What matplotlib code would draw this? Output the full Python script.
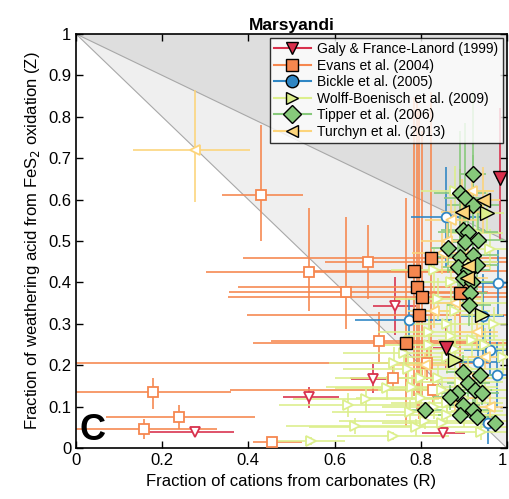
import numpy as np
import matplotlib.pyplot as plt
from matplotlib.lines import Line2D
from matplotlib.patches import Polygon

plt.rcParams['font.family'] = ['Liberation Sans', 'DejaVu Sans']

# ---- Galy & France-Lanord (1999)
galy_r   = [0.984, 0.858, 0.740, 0.689, 0.541, 0.276, 0.852]
galy_z   = [0.652, 0.242, 0.343, 0.167, 0.123, 0.039, 0.036]
galy_rlo = [0.010, 0.030, 0.050, 0.050, 0.060, 0.110, 0.050]
galy_rhi = [0.010, 0.030, 0.050, 0.045, 0.070, 0.090, 0.050]
galy_zlo = [0.150, 0.050, 0.070, 0.035, 0.025, 0.010, 0.010]
galy_zhi = [0.170, 0.050, 0.070, 0.035, 0.025, 0.010, 0.010]
galy_fill = [1, 1, 0, 0, 0, 0, 0]

# ---- Evans et al. (2004)
evans_r   = [0.824, 0.784, 0.791, 0.803, 0.796, 0.766, 0.890,
             0.429, 0.541, 0.626, 0.678, 0.703, 0.736, 0.179, 0.239, 0.158, 0.455, 0.814, 0.828]
evans_z   = [0.459, 0.427, 0.389, 0.365, 0.321, 0.254, 0.374,
             0.611, 0.425, 0.377, 0.449, 0.258, 0.169, 0.135, 0.075, 0.046, 0.015, 0.205, 0.140]
evans_rlo = [0.436, 0.250, 0.415, 0.450, 0.400, 0.356, 0.100,
             0.090, 0.240, 0.270, 0.100, 0.250, 0.100, 0.179, 0.170, 0.158, 0.045, 0.814, 0.470]
evans_rhi = [0.176, 0.216, 0.209, 0.197, 0.204, 0.234, 0.110,
             0.098, 0.380, 0.330, 0.322, 0.250, 0.200, 0.180, 0.176, 0.170, 0.070, 0.150, 0.140]
evans_zlo = [0.300, 0.300, 0.300, 0.250, 0.250, 0.200, 0.200,
             0.110, 0.095, 0.090, 0.090, 0.050, 0.030, 0.040, 0.030, 0.025, 0.008, 0.040, 0.030]
evans_zhi = [0.400, 0.420, 0.450, 0.400, 0.500, 0.350, 0.300,
             0.170, 0.155, 0.180, 0.090, 0.070, 0.030, 0.035, 0.030, 0.025, 0.008, 0.040, 0.030]
evans_fill = [1, 1, 1, 1, 1, 1, 1, 0, 0, 0, 0, 0, 0, 0, 0, 0, 0, 0, 0]

# ---- Bickle et al. (2005)
bickle_r   = [0.773, 0.858, 0.979, 0.960, 0.977, 0.933, 0.956, 0.944]
bickle_z   = [0.309, 0.558, 0.398, 0.237, 0.176, 0.208, 0.060, 0.320]
bickle_rlo = [0.126, 0.080, 0.050, 0.060, 0.030, 0.050, 0.030, 0.050]
bickle_rhi = [0.100, 0.080, 0.021, 0.040, 0.023, 0.050, 0.030, 0.050]
bickle_zlo = [0.050, 0.120, 0.080, 0.060, 0.080, 0.050, 0.050, 0.100]
bickle_zhi = [0.050, 0.120, 0.080, 0.060, 0.080, 0.050, 0.050, 0.100]
bickle_fill = [0, 0, 0, 0, 0, 0, 0, 0]

# ---- Wolff-Boenisch et al. (2009)
wolff_r = [0.879, 0.954, 0.941,
           0.545, 0.736, 0.647, 0.631, 0.673, 0.722, 0.738, 0.775, 0.780, 0.770, 0.800,
           0.830, 0.850, 0.840, 0.860, 0.820, 0.860, 0.880, 0.840, 0.870, 0.900, 0.830,
           0.930, 0.960, 0.920, 0.950, 0.900, 0.940, 0.970, 0.990, 0.880,
           0.810, 0.860, 0.890, 0.760, 0.820, 0.870, 0.910, 0.790, 0.850, 0.930,
           0.880, 0.800, 0.950, 0.900, 0.860, 0.920]
wolff_z = [0.213, 0.568, 0.321,
           0.017, 0.029, 0.053, 0.104, 0.118, 0.145, 0.205, 0.087, 0.147, 0.190, 0.120,
           0.100, 0.060, 0.170, 0.220, 0.280, 0.300, 0.330, 0.360, 0.400, 0.450, 0.430,
           0.520, 0.480, 0.260, 0.140, 0.080, 0.040, 0.300, 0.220, 0.620,
           0.065, 0.110, 0.160, 0.230, 0.250, 0.270, 0.190, 0.050, 0.140, 0.090,
           0.240, 0.170, 0.250, 0.120, 0.080, 0.350]
wolff_rerr = [0.050, 0.040, 0.050,
              0.080, 0.130, 0.160, 0.160, 0.170, 0.120, 0.150, 0.180, 0.200, 0.150, 0.150,
              0.120, 0.140, 0.120, 0.100, 0.120, 0.100, 0.080, 0.100, 0.080, 0.080, 0.100,
              0.060, 0.040, 0.080, 0.050, 0.080, 0.060, 0.030, 0.010, 0.080,
              0.200, 0.130, 0.100, 0.140, 0.120, 0.110, 0.090, 0.250, 0.150, 0.060,
              0.120, 0.200, 0.050, 0.100, 0.140, 0.080]
wolff_zerr = [0.040, 0.050, 0.050,
              0.010, 0.010, 0.020, 0.030, 0.030, 0.030, 0.040, 0.030, 0.030, 0.040, 0.030,
              0.030, 0.020, 0.030, 0.040, 0.040, 0.050, 0.050, 0.050, 0.050, 0.060, 0.050,
              0.060, 0.050, 0.040, 0.030, 0.030, 0.020, 0.040, 0.040, 0.060,
              0.020, 0.030, 0.030, 0.040, 0.040, 0.040, 0.030, 0.020, 0.030, 0.030,
              0.040, 0.030, 0.040, 0.030, 0.020, 0.050]
wolff_fill = [1, 1, 1] + [0] * 47

# ---- Tipper et al. (2006)
tipper_r = [0.921, 0.891, 0.903, 0.921, 0.898, 0.910, 0.903, 0.933, 0.863, 0.891,
            0.921, 0.886, 0.910, 0.930, 0.898, 0.919, 0.914, 0.912, 0.898, 0.937,
            0.910, 0.884, 0.868, 0.926, 0.942, 0.898, 0.810, 0.921, 0.891, 0.930, 0.972]
tipper_z = [0.662, 0.616, 0.604, 0.587, 0.527, 0.522, 0.498, 0.502, 0.483, 0.461,
            0.466, 0.437, 0.430, 0.442, 0.411, 0.401, 0.374, 0.345, 0.184, 0.176,
            0.157, 0.133, 0.123, 0.140, 0.133, 0.104, 0.092, 0.092, 0.080, 0.075, 0.060]
tipper_rerr = [0.030, 0.060, 0.050, 0.060, 0.050, 0.070, 0.050, 0.060, 0.040, 0.050,
               0.060, 0.040, 0.050, 0.050, 0.040, 0.050, 0.040, 0.050, 0.040, 0.040,
               0.050, 0.040, 0.040, 0.040, 0.040, 0.040, 0.040, 0.040, 0.050, 0.040, 0.020]
tipper_zerr = [0.200, 0.150, 0.180, 0.120, 0.100, 0.080, 0.080, 0.080, 0.060, 0.080,
               0.070, 0.060, 0.070, 0.060, 0.060, 0.050, 0.050, 0.050, 0.040, 0.040,
               0.040, 0.030, 0.030, 0.030, 0.030, 0.030, 0.020, 0.030, 0.020, 0.020, 0.020]
tipper_fill = [1] * 31

# ---- Turchyn et al. (2013)
turchyn_r   = [0.944, 0.896, 0.910, 0.907,
               0.276, 0.920, 0.870, 0.860, 0.850, 0.880, 0.930, 0.950, 0.910, 0.880,
               0.960, 0.810, 0.830]
turchyn_z   = [0.599, 0.570, 0.440, 0.410,
               0.720, 0.620, 0.550, 0.500, 0.470, 0.350, 0.280, 0.220, 0.170, 0.120,
               0.100, 0.200, 0.330]
turchyn_rlo = [0.040, 0.050, 0.050, 0.050,
               0.144, 0.050, 0.060, 0.060, 0.070, 0.060, 0.050, 0.040, 0.050, 0.050,
               0.030, 0.070, 0.060]
turchyn_rhi = [0.040, 0.050, 0.050, 0.050,
               0.128, 0.050, 0.060, 0.060, 0.070, 0.060, 0.050, 0.040, 0.050, 0.050,
               0.030, 0.070, 0.060]
turchyn_zlo = [0.080, 0.080, 0.060, 0.060,
               0.126, 0.050, 0.050, 0.050, 0.050, 0.040, 0.040, 0.030, 0.030, 0.030,
               0.030, 0.030, 0.040]
turchyn_zhi = [0.080, 0.080, 0.060, 0.060,
               0.145, 0.050, 0.050, 0.050, 0.050, 0.040, 0.040, 0.030, 0.030, 0.030,
               0.030, 0.030, 0.040]
turchyn_fill = [1, 1, 1, 1] + [0] * 13

labels = ['Galy & France-Lanord (1999)', 'Evans et al. (2004)', 'Bickle et al. (2005)',
          'Wolff-Boenisch et al. (2009)', 'Tipper et al. (2006)', 'Turchyn et al. (2013)']
colors = ['#d8304c', '#f6874f', '#2f86c4', '#dcef8c', '#87c97b', '#fcd47b']
markers = ['v', 's', 'o', '>', 'D', '<']
filled_size = {'v': 10, 's': 8.5, 'o': 9, '>': 10, 'D': 8.5, '<': 10}

series = [
    (galy_r, galy_z, [galy_rlo, galy_rhi], [galy_zlo, galy_zhi], galy_fill),
    (evans_r, evans_z, [evans_rlo, evans_rhi], [evans_zlo, evans_zhi], evans_fill),
    (bickle_r, bickle_z, [bickle_rlo, bickle_rhi], [bickle_zlo, bickle_zhi], bickle_fill),
    (wolff_r, wolff_z, [wolff_rerr, wolff_rerr], [wolff_zerr, wolff_zerr], wolff_fill),
    (tipper_r, tipper_z, [tipper_rerr, tipper_rerr], [tipper_zerr, tipper_zerr], tipper_fill),
    (turchyn_r, turchyn_z, [turchyn_rlo, turchyn_rhi], [turchyn_zlo, turchyn_zhi], turchyn_fill),
]

fig = plt.figure(figsize=(5.10, 4.99), dpi=100)
ax = fig.add_axes([0.149, 0.102, 0.845, 0.830])

# shaded wedges: above Z = 1 - R and above Z = 1 - R/2
ax.add_patch(Polygon([[0, 1], [1, 1], [1, 0]], closed=True, fc='#efefef', ec='none', zorder=0))
ax.add_patch(Polygon([[0, 1], [1, 1], [1, 0.5]], closed=True, fc='#dedede', ec='none', zorder=0))
ax.plot([0, 1], [1, 0], color='#a8a8a8', lw=0.8, zorder=0.5)
ax.plot([0, 1], [1, 0.5], color='#a8a8a8', lw=0.8, zorder=0.5)

# error bars and open symbols
for (r, z, rerr, zerr, fill), c, m in zip(series, colors, markers):
    r = np.array(r); z = np.array(z); fill = np.array(fill, dtype=bool)
    rerr = np.array(rerr); zerr = np.array(zerr)
    ax.errorbar(r, z, xerr=rerr, yerr=zerr, fmt='none', ecolor=c, elinewidth=1.3,
                capsize=0, alpha=0.9, zorder=2)
    op = ~fill
    ax.plot(r[op], z[op], ls='none', marker=m, ms=7, mfc='white', mec=c, mew=1.3, zorder=3)

# filled symbols on top
for (r, z, rerr, zerr, fill), c, m in zip(series, colors, markers):
    r = np.array(r); z = np.array(z); fill = np.array(fill, dtype=bool)
    ax.plot(r[fill], z[fill], ls='none', marker=m, ms=filled_size[m], mfc=c, mec='black',
            mew=1.0, zorder=4)

ax.set_xlim(0, 1)
ax.set_ylim(0, 1)
ax.set_xticks(np.arange(0, 1.01, 0.2))
ax.set_xticklabels(['0', '0.2', '0.4', '0.6', '0.8', '1'])
ax.get_xticklabels()[-1].set_horizontalalignment('right')
ax.set_yticks(np.arange(0, 1.01, 0.1))
ax.set_yticklabels(['0', '0.1', '0.2', '0.3', '0.4', '0.5', '0.6', '0.7', '0.8', '0.9', '1'])
ax.tick_params(direction='in', top=True, right=True, labelsize=12, length=5, width=1)
for s in ax.spines.values():
    s.set_linewidth(1.2)

ax.set_xlabel('Fraction of cations from carbonates (R)', fontsize=12, labelpad=4)
ax.set_ylabel('Fraction of weathering acid from FeS$_2$ oxidation (Z)', fontsize=12, labelpad=4)
ax.set_title('Marsyandi', fontsize=12.5, fontweight='bold', pad=3)
ax.text(0.008, 0.0, 'C', fontsize=26, fontweight='bold', ha='left', va='bottom', zorder=6)

handles = [Line2D([], [], color=c, lw=1.5, marker=m, ms=9, mfc=c, mec='black', mew=1.0)
           for c, m in zip(colors, markers)]
leg = ax.legend(handles, labels, loc='upper right', fontsize=10, frameon=True, fancybox=False,
                handlelength=2.6, borderaxespad=0.3, labelspacing=0.18, borderpad=0.3,
                handletextpad=0.5)
leg.get_frame().set_edgecolor('black')
leg.get_frame().set_linewidth(1.0)
leg.set_zorder(10)

fig.savefig('out.png', dpi=100)
